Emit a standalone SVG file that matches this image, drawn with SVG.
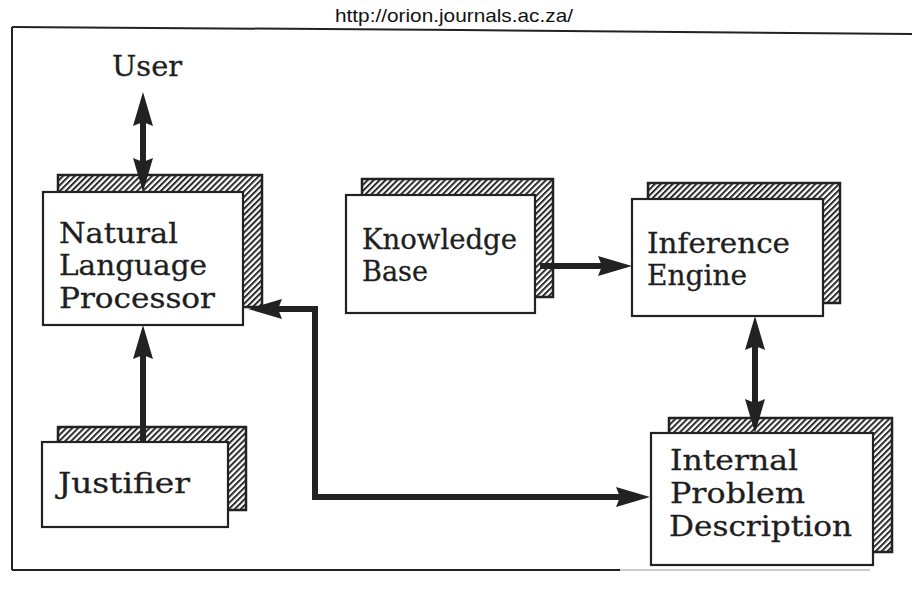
<svg xmlns="http://www.w3.org/2000/svg" width="912" height="597" viewBox="0 0 912 597">
  <style>
    .lbl { font-family: "DejaVu Serif", "Liberation Serif", serif; font-size: 27px; fill: #1e1e1e; stroke: #1e1e1e; stroke-width: 0.3; }
    .url { font-family: "Liberation Sans", Arial, sans-serif; font-size: 19px; fill: #111; }
    .shadow { fill: url(#hatch); stroke: #222; stroke-width: 2.5; }
    .front { fill: #fff; stroke: #222; stroke-width: 2.2; }
    .frame { fill: none; stroke: #222; stroke-width: 2; }
    .conn { fill: none; stroke: #222; stroke-width: 6; stroke-linejoin: miter; }
  </style>
  <defs>
    <pattern id="hatch" patternUnits="userSpaceOnUse" width="4.2" height="4.2" patternTransform="rotate(45)">
      <rect width="4.2" height="4.2" fill="#fff"/>
      <line x1="1" y1="0" x2="1" y2="4.2" stroke="#2a2a2a" stroke-width="2"/>
    </pattern>
    <marker id="ah" viewBox="0 0 34 20" refX="10" refY="10" markerWidth="34" markerHeight="20" markerUnits="userSpaceOnUse" orient="auto-start-reverse">
      <path d="M0,0 L34,10 L0,20 L4,10 z" fill="#222"/>
    </marker>
  </defs>
  <rect width="912" height="597" fill="#fff"/>

  <text class="url" x="454" y="22" text-anchor="middle" textLength="238" lengthAdjust="spacingAndGlyphs">http://orion.journals.ac.za/</text>

  <g id="frame">
    <path class="frame" d="M12,27 L460,30 L912,34"/>
    <path class="frame" d="M12,27 L12,570"/>
    <path class="frame" d="M12,570 L620,570"/>
    <path d="M620,570 L870,570" stroke="#bbb" stroke-width="1.5" fill="none"/>
  </g>

  <g id="user">
    <text class="lbl" x="112" y="76" textLength="70" lengthAdjust="spacingAndGlyphs">User</text>
  </g>

  <g id="nlp">
    <rect class="shadow" x="58" y="175" width="204" height="132"/>
    <rect class="front" x="43" y="192" width="200" height="133"/>
    <text class="lbl" x="59" y="243" textLength="119" lengthAdjust="spacingAndGlyphs">Natural</text>
    <text class="lbl" x="59" y="275" textLength="148" lengthAdjust="spacingAndGlyphs">Language</text>
    <text class="lbl" x="59" y="308" textLength="156" lengthAdjust="spacingAndGlyphs">Processor</text>
  </g>

  <g id="kb">
    <rect class="shadow" x="362" y="179" width="191" height="118"/>
    <rect class="front" x="346" y="195" width="189" height="118"/>
    <text class="lbl" x="362" y="249" textLength="155" lengthAdjust="spacingAndGlyphs">Knowledge</text>
    <text class="lbl" x="362" y="281" textLength="66" lengthAdjust="spacingAndGlyphs">Base</text>
  </g>

  <g id="ie">
    <rect class="shadow" x="648" y="183" width="192" height="120"/>
    <rect class="front" x="632" y="199" width="191" height="117"/>
    <text class="lbl" x="647" y="253" textLength="143" lengthAdjust="spacingAndGlyphs">Inference</text>
    <text class="lbl" x="647" y="285" textLength="100" lengthAdjust="spacingAndGlyphs">Engine</text>
  </g>

  <g id="justifier">
    <rect class="shadow" x="58" y="427" width="188" height="83"/>
    <rect class="front" x="42" y="442" width="186" height="85"/>
    <text class="lbl" x="58" y="493" textLength="132" lengthAdjust="spacingAndGlyphs">Justifier</text>
  </g>

  <g id="ipd">
    <rect class="shadow" x="669" y="418" width="223" height="134"/>
    <rect class="front" x="651" y="433" width="222" height="132"/>
    <text class="lbl" x="670" y="470" textLength="128" lengthAdjust="spacingAndGlyphs">Internal</text>
    <text class="lbl" x="670" y="503" textLength="135" lengthAdjust="spacingAndGlyphs">Problem</text>
    <text class="lbl" x="669" y="536" textLength="183" lengthAdjust="spacingAndGlyphs">Description</text>
  </g>

  <g id="connectors">
    <path class="conn" d="M143,116 L143,168" marker-start="url(#ah)" marker-end="url(#ah)"/>
    <path class="conn" d="M143,442 L143,349" marker-end="url(#ah)"/>
    <path class="conn" d="M540,266 L608,266" marker-end="url(#ah)"/>
    <path class="conn" d="M755,340 L755,409" marker-start="url(#ah)" marker-end="url(#ah)"/>
    <path class="conn" d="M272,309 L315,309 L315,497 L626,497" marker-start="url(#ah)" marker-end="url(#ah)"/>
  </g>
</svg>
